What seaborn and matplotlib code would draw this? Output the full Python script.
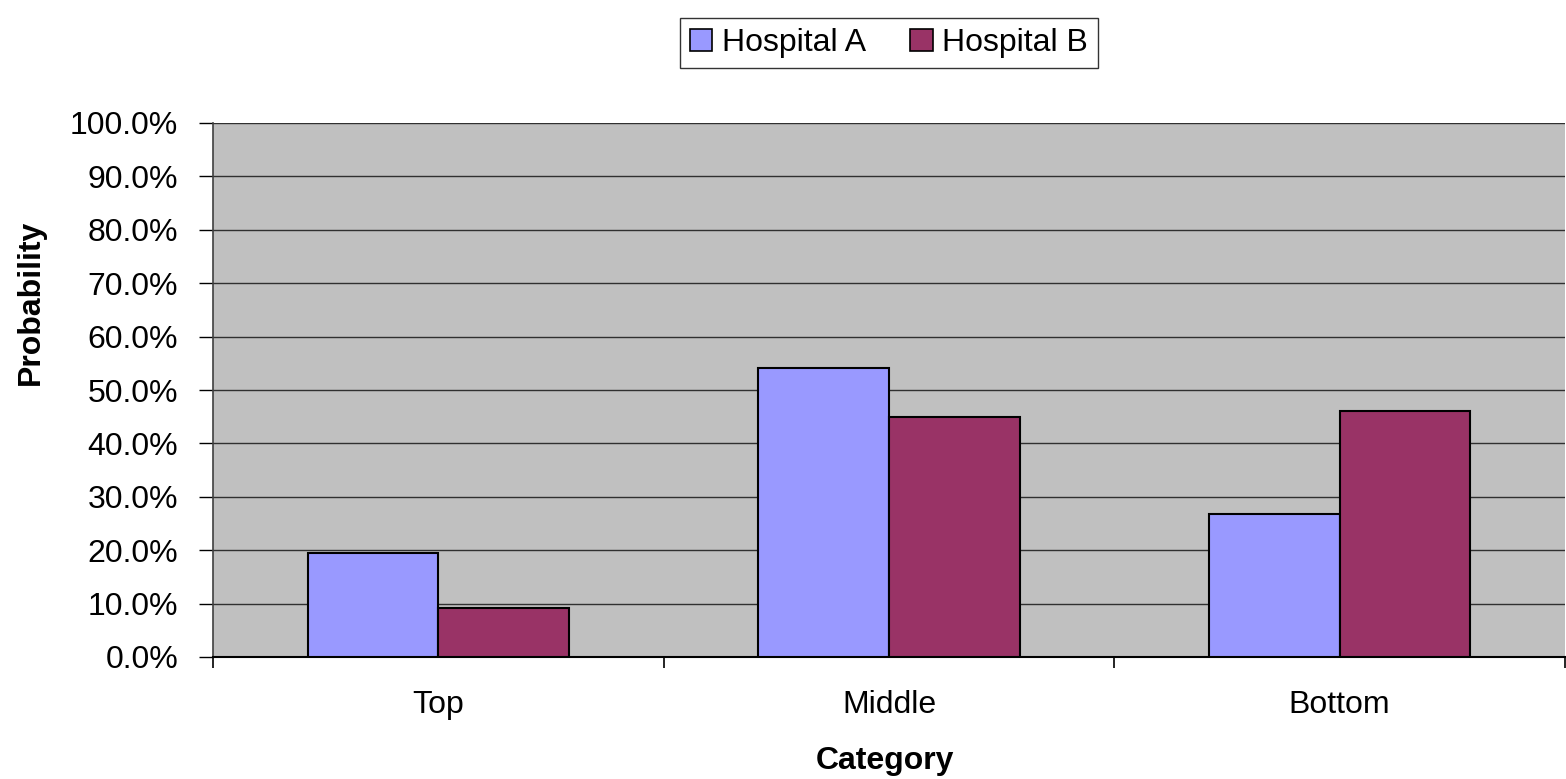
import matplotlib
matplotlib.use("Agg")
import matplotlib.pyplot as plt
import seaborn as sns
import pandas as pd
from matplotlib.ticker import FuncFormatter, FixedLocator

# Probability of each category by hospital
categories = ["Top", "Middle", "Bottom"]
hospital_a = [0.195, 0.542, 0.268]
hospital_b = [0.091, 0.449, 0.460]
series_names = ["Hospital A", "Hospital B"]
y_ticks = [i / 10 for i in range(11)]

df = pd.DataFrame({
    "Category": categories * 2,
    "Probability": hospital_a + hospital_b,
    "Hospital": [series_names[0]] * 3 + [series_names[1]] * 3,
})

sns.set_theme(style="white")
plt.rcParams["font.family"] = ["Liberation Sans", "DejaVu Sans"]
plt.rcParams["text.color"] = "black"

W, H = 1566, 779
fig = plt.figure(figsize=(W / 100, H / 100), dpi=100)
ax = fig.add_axes([213 / W, 1 - 657 / H, (1565 - 213) / W, (657 - 123) / H])
ax.set_facecolor("#C0C0C0")

palette = {series_names[0]: "#9999FF", series_names[1]: "#993366"}
sns.barplot(data=df, x="Category", y="Probability", hue="Hospital",
            order=categories, hue_order=series_names, palette=palette,
            width=0.58, edgecolor="black", linewidth=1.5, saturation=1,
            ax=ax, legend=False, zorder=3)

ax.set_xlim(-0.5, 2.5)
ax.set_ylim(0, 1.0)
ax.yaxis.set_major_locator(FixedLocator(y_ticks))
ax.yaxis.set_major_formatter(FuncFormatter(lambda v, p: f"{v * 100:.1f}%"))
ax.grid(axis="y", color="#303030", linewidth=1.0, zorder=0)
ax.set_axisbelow(True)

for side in ["top", "right"]:
    ax.spines[side].set_visible(False)
ax.spines["left"].set_color("#404040")
ax.spines["left"].set_linewidth(1.2)
ax.spines["bottom"].set_color("black")
ax.spines["bottom"].set_linewidth(1.5)

ax.tick_params(axis="y", which="major", left=True, length=10, width=1,
               color="black", labelsize=23, pad=15, labelcolor="black")
ax.tick_params(axis="x", which="major", bottom=False, labelsize=23, pad=18,
               labelcolor="black")
ax.xaxis.set_minor_locator(FixedLocator([-0.5, 0.5, 1.5, 2.5]))
ax.tick_params(axis="x", which="minor", bottom=True, length=8, width=1.2,
               color="black")

ax.set_xlabel("Category", fontsize=23, fontweight="bold", color="black")
ax.set_ylabel("Probability", fontsize=23, fontweight="bold", color="black")
ax.xaxis.set_label_coords((885 - 213) / (1565 - 213), -(746 - 657) / (657 - 123))
ax.yaxis.set_label_coords(-(213 - 46) / (1565 - 213), (657 - 302) / (657 - 123))

handles = [plt.Rectangle((0, 0), 1, 1, facecolor=palette[n], edgecolor="black", linewidth=1.2)
           for n in series_names]
leg = fig.legend(handles, series_names, loc="center", ncol=2,
                 bbox_to_anchor=(889 / W, 1 - 43 / H), fontsize=23,
                 frameon=True, fancybox=False, edgecolor="black",
                 handlelength=0.7, handleheight=0.7, handletextpad=0.3,
                 columnspacing=1.4, borderpad=0.3, borderaxespad=0)
leg.get_frame().set_linewidth(1.0)
for t in leg.get_texts():
    t.set_color("black")

fig.savefig("out.png", dpi=100, facecolor="white")
